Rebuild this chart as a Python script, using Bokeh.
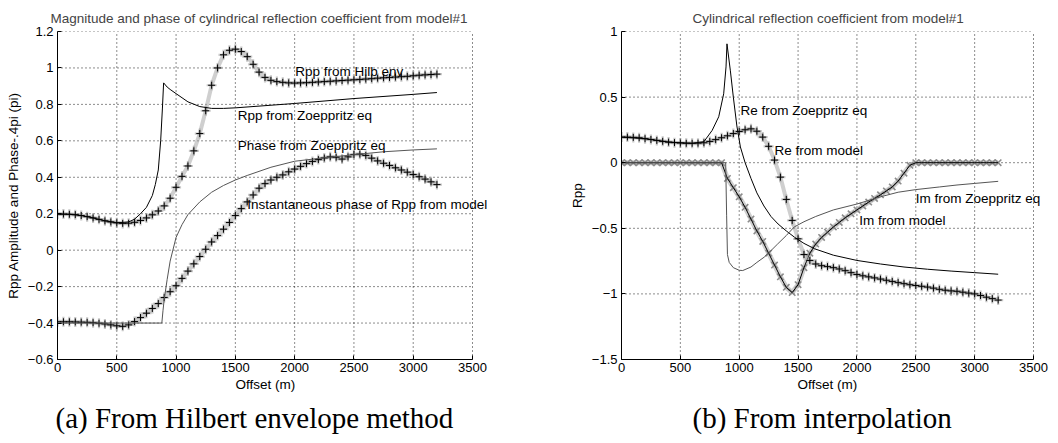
from bokeh.plotting import figure
from bokeh.models import Range1d, FixedTicker, CustomJSTickFormatter, Title, Label
from bokeh.layouts import row
from bokeh.embed import file_html
from bokeh.resources import INLINE

# ---------------- data ----------------
offset_m = list(range(0, 3201, 50))

# (a) Hilbert envelope method
rpp_hilb_env = [
    0.198, 0.198, 0.197, 0.195, 0.19, 0.184, 0.177, 0.169, 0.161, 0.155,
    0.150, 0.147, 0.148, 0.153, 0.163, 0.177, 0.194, 0.215, 0.243, 0.285,
    0.345, 0.405, 0.462, 0.545, 0.64, 0.765, 0.905, 1.0, 1.072, 1.097,
    1.103, 1.09, 1.062, 1.02, 0.977, 0.948, 0.932, 0.925, 0.921, 0.918,
    0.917, 0.918, 0.919, 0.921, 0.923, 0.925, 0.927, 0.929, 0.931, 0.933,
    0.935, 0.937, 0.939, 0.941, 0.944, 0.946, 0.948, 0.95, 0.952, 0.954,
    0.957, 0.96, 0.962, 0.964, 0.966]
inst_phase_model = [
    -0.393, -0.393, -0.393, -0.394, -0.395, -0.396, -0.398, -0.401, -0.405, -0.41,
    -0.415, -0.418, -0.41, -0.392, -0.37, -0.346, -0.32, -0.293, -0.26, -0.228,
    -0.195, -0.155, -0.115, -0.075, -0.035, 0.005, 0.045, 0.08, 0.115, 0.152,
    0.19, 0.228, 0.265, 0.303, 0.34, 0.365, 0.385, 0.4, 0.413, 0.43,
    0.445, 0.46, 0.475, 0.487, 0.497, 0.506, 0.512, 0.51, 0.5, 0.512,
    0.525, 0.527, 0.52, 0.505, 0.49, 0.477, 0.465, 0.452, 0.44, 0.428,
    0.415, 0.403, 0.39, 0.375, 0.36]
rpp_zoe_offset = [0, 100, 200, 300, 400, 500, 600, 650, 700, 750, 800, 825, 850,
                  870, 885, 895, 925, 950, 1000, 1100, 1200, 1300, 1400, 1500,
                  2000, 2500, 3000, 3200]
rpp_zoe = [0.198, 0.197, 0.19, 0.177, 0.161, 0.150, 0.155, 0.17, 0.2, 0.235, 0.3,
           0.36, 0.44, 0.6, 0.78, 0.918, 0.895, 0.882, 0.859, 0.814, 0.788, 0.778,
           0.778, 0.781, 0.805, 0.832, 0.855, 0.865]
phase_zoe_offset = [0, 500, 880, 890, 900, 925, 950, 1000, 1050, 1100, 1200, 1300,
                    1400, 1500, 1600, 1800, 2000, 2250, 2500, 2750, 3000, 3200]
phase_zoe = [-0.4, -0.4, -0.4, -0.33, -0.27, -0.16, -0.06, 0.07, 0.14, 0.195, 0.265,
             0.318, 0.355, 0.385, 0.41, 0.455, 0.488, 0.507, 0.524, 0.54, 0.55, 0.556]

# (b) interpolation
re_model = [
    0.195, 0.195, 0.193, 0.19, 0.183, 0.177, 0.17, 0.163, 0.157, 0.153,
    0.15, 0.148, 0.148, 0.149, 0.152, 0.162, 0.176, 0.19, 0.205, 0.222,
    0.238, 0.251, 0.258, 0.24, 0.195, 0.125, 0.02, -0.11, -0.28, -0.44,
    -0.58, -0.7, -0.745, -0.772, -0.785, -0.792, -0.8, -0.81, -0.823, -0.838,
    -0.852, -0.862, -0.87, -0.878, -0.887, -0.896, -0.905, -0.914, -0.922, -0.93,
    -0.936, -0.942, -0.948, -0.956, -0.965, -0.972, -0.977, -0.98, -0.987, -0.994,
    -1.0, -1.012, -1.025, -1.036, -1.047]
im_model = [
    0, 0, 0, 0, 0, 0, 0, 0, 0, 0,
    0, 0, 0, 0, 0, 0, 0, 0, -0.12, -0.19,
    -0.26, -0.34, -0.43, -0.52, -0.6, -0.69, -0.78, -0.87, -0.95, -0.99,
    -0.93, -0.8, -0.69, -0.62, -0.57, -0.53, -0.49, -0.455, -0.42, -0.39,
    -0.36, -0.33, -0.3, -0.272, -0.245, -0.215, -0.185, -0.14, -0.08, -0.02,
    0, 0, 0, 0, 0, 0, 0, 0, 0, 0,
    0, 0, 0, 0, 0]
re_zoe_offset = [0, 200, 400, 600, 700, 770, 826, 868, 888, 896, 925, 950, 980, 1010,
                 1050, 1100, 1150, 1210, 1270, 1330, 1400, 1470, 1550, 1640, 1800,
                 2000, 2200, 2400, 2600, 2800, 3000, 3200]
re_zoe = [0.195, 0.183, 0.157, 0.148, 0.16, 0.246, 0.35, 0.525, 0.73, 0.906, 0.7, 0.5,
          0.28, 0.12, 0.0, -0.12, -0.23, -0.33, -0.41, -0.467, -0.52, -0.568, -0.615,
          -0.656, -0.705, -0.745, -0.772, -0.795, -0.812, -0.826, -0.838, -0.85]
im_zoe_offset = [0, 885, 893, 900, 915, 950, 1000, 1030, 1100, 1150, 1212, 1270, 1326,
                 1400, 1467, 1550, 1650, 1800, 2000, 2200, 2350, 2500, 2700, 2850,
                 3000, 3200]
im_zoe = [0, 0, -0.4, -0.7, -0.76, -0.8, -0.82, -0.822, -0.795, -0.76, -0.72, -0.67,
          -0.62, -0.555, -0.49, -0.45, -0.41, -0.36, -0.315, -0.26, -0.225, -0.205,
          -0.185, -0.17, -0.158, -0.142]

x_ticks = [0, 500, 1000, 1500, 2000, 2500, 3000, 3500]
y_ticks_a = [-0.6, -0.4, -0.2, 0, 0.2, 0.4, 0.6, 0.8, 1.0, 1.2]
y_ticks_b = [-1.5, -1.0, -0.5, 0, 0.5, 1.0]

labels_a = ["Rpp from Hilb env", "Rpp from Zoeppritz eq", "Phase from Zoeppritz eq",
            "Instantaneous phase of Rpp from model"]
labels_a_x = [2005, 1520, 1520, 1600]
labels_a_y = [0.98, 0.74, 0.573, 0.248]
labels_b = ["Re from Zoeppritz eq", "Re from model", "Im from Zoeppritz eq", "Im from model"]
labels_b_x = [1010, 1300, 2500, 2020]
labels_b_y = [0.40, 0.095, -0.273, -0.443]

# ---------------- styling helpers ----------------
SANS = "Liberation Sans"
SERIF = "Liberation Serif"
X_MAX = 3500
ytick_fmt = CustomJSTickFormatter(code="""
const v = Math.round(Math.abs(tick) * 10) / 10;
return (tick < -1e-9 ? '\u2212' : '') + String(v);
""")


def make_fig(width, ylo, yhi, yticks, bl, axis_px, title, title_off, ylabel, xlab_off,
             caption, cap_offset):
    # the frame runs to the right edge so that texts may overflow the axes box,
    # the axes themselves stop at X_MAX (axis_px pixels from the frame's left side)
    frame_px = width - bl
    x_end = X_MAX * frame_px / axis_px
    p = figure(width=width, height=443, x_range=Range1d(0, x_end), y_range=Range1d(ylo, yhi),
               output_backend="svg", toolbar_location=None,
               min_border_left=bl, min_border_right=0, min_border_top=31, min_border_bottom=84)
    p.outline_line_color = None
    p.background_fill_color = "white"
    p.border_fill_color = "white"
    p.xgrid.visible = False
    p.ygrid.visible = False
    p.title.text = title
    p.title.align = "left"
    p.title.offset = title_off
    p.title.text_font = SANS
    p.title.text_font_size = "13.5px"
    p.title.text_font_style = "normal"
    p.title.standoff = 12
    for ax in (p.xaxis[0], p.yaxis[0]):
        ax.axis_line_color = "black"
        ax.major_tick_in = 4
        ax.major_tick_out = 0
        ax.minor_tick_line_color = None
        ax.major_tick_line_color = "black"
        ax.major_label_text_font = SANS
        ax.major_label_text_font_size = "13px"
        ax.major_label_text_color = "black"
        ax.axis_label_text_font = SANS
        ax.axis_label_text_font_size = "13.5px"
        ax.axis_label_text_font_style = "normal"
        ax.axis_label_text_color = "black"
    p.xaxis.bounds = (0, X_MAX)
    p.xaxis.ticker = FixedTicker(ticks=x_ticks)
    p.yaxis.ticker = FixedTicker(ticks=yticks)
    p.yaxis.formatter = ytick_fmt
    p.xaxis.major_label_standoff = 3
    p.yaxis.axis_label = ylabel
    p.yaxis.major_label_standoff = 4
    p.yaxis.axis_label_standoff = 4
    # dotted grid limited to the axes box
    grid = dict(line_color="black", line_dash="1 3", line_width=1, line_alpha=0.9)
    p.segment(x0=x_ticks, y0=[ylo] * len(x_ticks), x1=x_ticks, y1=[yhi] * len(x_ticks), **grid)
    p.segment(x0=[0] * len(yticks), y0=yticks, x1=[X_MAX] * len(yticks), y1=yticks, **grid)
    # x axis label centred under the axes box (not the wider frame)
    xlab = Title(text="Offset (m)", align="left", offset=xlab_off, text_font=SANS,
                 text_font_size="13.5px", text_font_style="normal", text_color="black",
                 standoff=0)
    p.add_layout(xlab, "below")
    cap = Title(text=caption, align="left", offset=cap_offset, text_font=SERIF,
                text_font_size="29px", text_font_style="normal", text_color="black",
                text_baseline="alphabetic", standoff=16)
    p.add_layout(cap, "below")
    return p


def marker_series(p, x, y, marker="cross"):
    p.line(x, y, line_color="#a0a0a0", line_width=4, line_alpha=0.5)
    p.scatter(x, y, marker=marker, size=10, line_color="#9a9a9a", line_width=2.2, line_alpha=0.55)
    p.scatter(x, y, marker=marker, size=7, line_color="black", line_width=1)


def add_labels(p, xs, ys, texts):
    for x, y, t in zip(xs, ys, texts):
        p.add_layout(Label(x=x, y=y, text=t, text_font=SANS, text_font_size="13.5px",
                           text_baseline="middle", text_align="left", text_color="black"))


# ---------------- (a) ----------------
p1 = make_fig(530, -0.6, 1.2, y_ticks_a, 57, 415,
              "Magnitude and phase of cylindrical reflection coefficient from model#1", -7,
              "Rpp Amplitude and Phase-.4pi (pi)", 178,
              "(a) From Hilbert envelope method", -2)
marker_series(p1, offset_m, rpp_hilb_env)
marker_series(p1, offset_m, inst_phase_model)
p1.line(rpp_zoe_offset, rpp_zoe, line_color="black", line_width=1)
p1.line(phase_zoe_offset, phase_zoe, line_color="#555555", line_width=1)
add_labels(p1, labels_a_x, labels_a_y, labels_a)

# ---------------- (b) ----------------
p2 = make_fig(528, -1.5, 1.0, y_ticks_b, 91, 412,
              "Cylindrical reflection coefficient from model#1", 71,
              "Rpp", 176, "(b) From interpolation", 71)
p2.line(offset_m, im_model, line_color="#a0a0a0", line_width=5, line_alpha=0.5)
p2.scatter(offset_m, im_model, marker="x", size=9, line_color="#8c8c8c", line_width=1.6)
p2.line(offset_m, im_model, line_color="black", line_width=1)
marker_series(p2, offset_m, re_model)
p2.line(re_zoe_offset, re_zoe, line_color="black", line_width=1)
p2.line(im_zoe_offset, im_zoe, line_color="#555555", line_width=1)
add_labels(p2, labels_b_x, labels_b_y, labels_b)

layout = row(p1, p2)
open("out.html", "w").write(file_html(layout, INLINE))
